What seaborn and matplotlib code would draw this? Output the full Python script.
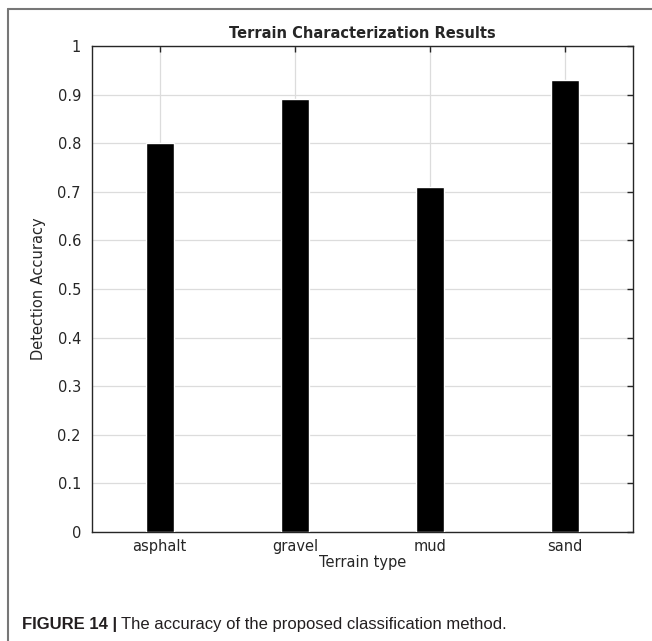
#!/usr/bin/env python3
'''
Bar chart of terrain characterization accuracy, MATLAB-like styling,
with a journal style caption underneath.
'''
import seaborn as sns
import matplotlib.pyplot as plt
import pandas as pd
from matplotlib.lines import Line2D

terrains = ['asphalt', 'gravel', 'mud', 'sand']
accuracy = [0.80, 0.89, 0.71, 0.93]
y_ticks = [0, 0.1, 0.2, 0.3, 0.4, 0.5, 0.6, 0.7, 0.8, 0.9, 1]
y_tick_labels = ['0', '0.1', '0.2', '0.3', '0.4', '0.5', '0.6', '0.7',
                 '0.8', '0.9', '1']

sns.set_style('white')
plt.rcParams['font.family'] = ['DejaVu Sans']

df = pd.DataFrame({'terrain': terrains, 'accuracy': accuracy})

fig = plt.figure(figsize=(6.52, 6.41), dpi=100)
ax = fig.add_axes([92 / 652, 1 - 532 / 641, (633 - 92) / 652, (532 - 46) / 641])

sns.barplot(data=df, x='terrain', y='accuracy', color='black',
            width=0.207, saturation=1, ax=ax, zorder=3)

ax.set_xlim(-0.5, 3.5)
ax.set_ylim(0, 1)
ax.set_yticks(y_ticks)
ax.set_yticklabels(y_tick_labels)
ax.grid(True, color='#dcdcdc', linewidth=0.9, zorder=0)
ax.set_axisbelow(True)
ax.tick_params(direction='in', length=4, width=1, colors='#262626',
               labelsize=10.5, top=True, right=True, pad=5)
ax.tick_params(axis='y', pad=8)
for s in ax.spines.values():
    s.set_color('#262626')
    s.set_linewidth(1)
    s.set_visible(True)

ax.set_xlabel('Terrain type', fontsize=10.5, color='#262626', labelpad=1)
ax.set_ylabel('Detection Accuracy', fontsize=10.5, color='#262626', labelpad=8)
ax.set_title('Terrain Characterization Results', fontsize=10.5,
             fontweight='bold', pad=6)

# outer frame (top and left edges visible in the source)
fig.add_artist(Line2D([8 / 652, 8 / 652], [0, 1 - 9 / 641],
                      transform=fig.transFigure, color='#777777', lw=1.5))
fig.add_artist(Line2D([8 / 652, 1], [1 - 9 / 641, 1 - 9 / 641],
                      transform=fig.transFigure, color='#777777', lw=1.5))

# caption
cap_y = 1 - 625 / 641
t1 = fig.text(22 / 652, cap_y, 'FIGURE 14 |', fontsize=12, fontweight='bold',
              family='Liberation Sans', va='center', color='#231f20')
fig.canvas.draw()
bb = t1.get_window_extent(renderer=fig.canvas.get_renderer())
fig.text(bb.x1 / fig.bbox.width + 4 / 652, cap_y,
         'The accuracy of the proposed classification method.', fontsize=12,
         family='Liberation Sans', va='center', color='#231f20')

fig.savefig('out.png', dpi=100)
